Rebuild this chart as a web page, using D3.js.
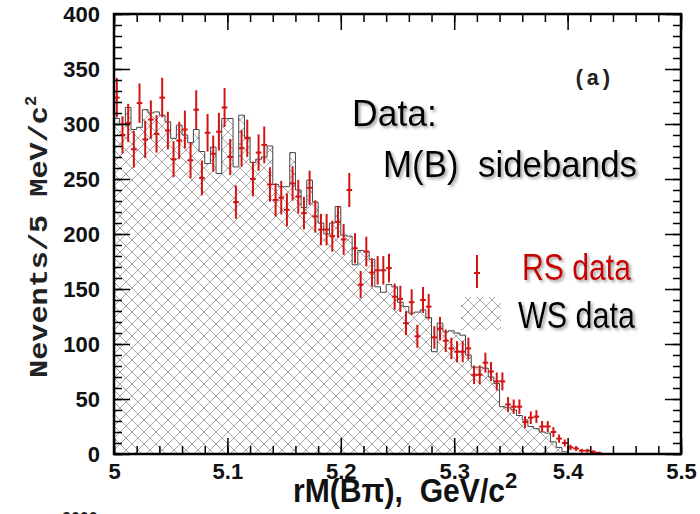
<!DOCTYPE html>
<html><head><meta charset="utf-8">
<script src="https://cdn.jsdelivr.net/npm/d3@7"></script>
<style>body{margin:0;background:#fff} text{white-space:pre}</style>
</head><body>
<svg id="c" width="700" height="514"></svg>
<script>
// 5 MeV/c^2 bins from 5.000 to 5.500 GeV/c^2
const binStart = 5.0;
const binWidth = 0.005;

// right-sign candidates (points with sqrt(N) errors)
const rsCounts = [
  324, 290, 301, 277, 319, 286, 304, 291, 324, 294,
  268, 285, 295, 267, 313, 251, 292, 273, 293, 315,
  270, 229, 278, 287, 250, 274, 281, 245, 231, 233,
  222, 246, 234, 219, 242, 216, 204, 204, 198, 211,
  195, 240, 187, 154, 184, 165, 167, 167, 169, 143,
  141, 119, 138, 107, 140, 134, 106, 114, 103, 96,
  93, 93, 96, 72, 72, 83, 75, 66, 66, 45,
  43, 43, 29, 33, 34, 25, 25, 20, 14, 10,
  6, 5, 3, 3, 2, 1, 0, 0, 0, 0,
  0, 0, 0, 0, 0, 0, 0, 0, 0, 0
];

// wrong-sign candidates (hatched histogram)
const wsCounts = [
  305, 300, 315, 295, 297, 313, 310, 311, 308, 302,
  287, 299, 290, 283, 295, 275, 264, 279, 255, 305,
  305, 261, 308, 288, 265, 268, 270, 280, 245, 243,
  243, 274, 240, 224, 249, 229, 210, 200, 210, 225,
  199, 198, 172, 185, 184, 177, 152, 147, 154, 152,
  138, 134, 128, 129, 131, 124, 93, 119, 111, 112,
  110, 108, 90, 79, 79, 78, 70, 64, 43, 42,
  40, 35, 31, 25, 23, 20, 19, 11, 6, 2,
  0, 0, 0, 0, 0, 0, 0, 0, 0, 0,
  0, 0, 0, 0, 0, 0, 0, 0, 0, 0
];

const xMajorTicks = [5, 5.1, 5.2, 5.3, 5.4, 5.5];
const xTickLabels = ["5", "5.1", "5.2", "5.3", "5.4", "5.5"];
const yMajorTicks = [0, 50, 100, 150, 200, 250, 300, 350, 400];

const svg = d3.select("#c");
const x = d3.scaleLinear().domain([5.0, 5.5]).range([114, 681]);
const y = d3.scaleLinear().domain([0, 400]).range([454, 14]);

const defs = svg.append("defs");
const pat = defs.append("pattern")
  .attr("id", "xhatch").attr("patternUnits", "userSpaceOnUse")
  .attr("width", 12).attr("height", 12);
pat.append("path").attr("d", "M0,0L12,12M0,12L12,0M-1,1L1,-1M11,13L13,11M-1,11L1,13M11,-1L13,1")
  .attr("stroke", "#9c9c9c").attr("stroke-width", 0.9).attr("fill", "none");
const sh = defs.append("filter").attr("id", "shadow")
  .attr("x", "-10%").attr("y", "-20%").attr("width", "130%").attr("height", "150%");
sh.append("feDropShadow").attr("dx", 2).attr("dy", 2).attr("stdDeviation", 1.5)
  .attr("flood-color", "#777").attr("flood-opacity", 0.7);

// WS histogram as a step outline
const steps = [[binStart, 0]];
wsCounts.forEach((v, i) => {
  const lo = binStart + i * binWidth;
  steps.push([lo, v], [lo + binWidth, v]);
});
steps.push([binStart + wsCounts.length * binWidth, 0]);
const line = d3.line().x(d => x(d[0])).y(d => y(d[1]));
svg.append("path").attr("d", line(steps))
  .attr("fill", "url(#xhatch)").attr("stroke", "#444").attr("stroke-width", 1);

// RS data points
const red = "#d21414";
const pts = svg.append("g").attr("stroke", red).attr("stroke-width", 2);
rsCounts.forEach((v, i) => {
  const lo = binStart + i * binWidth;
  const c = lo + binWidth / 2;
  const e = Math.sqrt(v);
  pts.append("line").attr("x1", x(lo)).attr("x2", x(lo + binWidth))
    .attr("y1", y(v)).attr("y2", y(v))
    .attr("stroke", v === 0 ? "#8b1a1a" : red);
  if (v > 0) {
    pts.append("line").attr("x1", x(c)).attr("x2", x(c))
      .attr("y1", y(v - e)).attr("y2", y(v + e));
  }
});

// axes with inward ticks on all four sides
const xMinor = d3.range(0, 26).map(k => 5 + k * 0.02);
const yMinor = d3.range(0, 41).map(k => k * 10);
function styleAxis(g) {
  g.selectAll("line").attr("stroke", "#000").attr("stroke-width", 1.5);
  g.select(".domain").remove();
}
svg.append("g").attr("transform", "translate(0,454)")
  .call(d3.axisBottom(x).tickValues(xMinor).tickSize(-8).tickFormat("")).call(styleAxis);
const xb = svg.append("g").attr("transform", "translate(0,454)")
  .call(d3.axisBottom(x).tickValues(xMajorTicks).tickSize(-16).tickPadding(9)
    .tickFormat((d, i) => xTickLabels[i]));
styleAxis(xb);
xb.selectAll("text").attr("font-family", "Liberation Sans, Arial, sans-serif")
  .attr("font-weight", "bold").attr("font-size", 22).attr("fill", "#111");
svg.append("g").attr("transform", "translate(0,14)")
  .call(d3.axisTop(x).tickValues(xMinor).tickSize(-8).tickFormat("")).call(styleAxis);
svg.append("g").attr("transform", "translate(0,14)")
  .call(d3.axisTop(x).tickValues(xMajorTicks).tickSize(-16).tickFormat("")).call(styleAxis);

svg.append("g").attr("transform", "translate(114,0)")
  .call(d3.axisLeft(y).tickValues(yMinor).tickSize(-8).tickFormat("")).call(styleAxis);
const yl = svg.append("g").attr("transform", "translate(114,0)")
  .call(d3.axisLeft(y).tickValues(yMajorTicks).tickSize(-16).tickPadding(14));
styleAxis(yl);
yl.selectAll("text").attr("font-family", "Liberation Sans, Arial, sans-serif")
  .attr("font-weight", "bold").attr("font-size", 22).attr("fill", "#111");
svg.append("g").attr("transform", "translate(681,0)")
  .call(d3.axisRight(y).tickValues(yMinor).tickSize(-8).tickFormat("")).call(styleAxis);
svg.append("g").attr("transform", "translate(681,0)")
  .call(d3.axisRight(y).tickValues(yMajorTicks).tickSize(-16).tickFormat("")).call(styleAxis);

// frame
svg.append("rect").attr("x", 114).attr("y", 14).attr("width", 567).attr("height", 440)
  .attr("fill", "none").attr("stroke", "#000").attr("stroke-width", 2.5);

// axis titles
const yt = svg.append("text").attr("transform", "translate(47,378) rotate(-90)")
  .attr("font-family", "Liberation Mono, Courier New, monospace").attr("font-weight", "bold")
  .attr("font-size", 25).attr("fill", "#222");
yt.append("tspan").text("Nevents/5 MeV/c").attr("textLength", 272).attr("lengthAdjust", "spacingAndGlyphs");
yt.append("tspan").text("2").attr("dy", -11).attr("font-size", 17);

const xt = svg.append("text").attr("x", 293).attr("y", 502)
  .attr("font-family", "Liberation Sans Narrow, Liberation Sans, Arial, sans-serif")
  .attr("font-weight", "bold").attr("font-size", 34).attr("fill", "#111");
xt.append("tspan").text("rM(B\u03c0),\u00a0\u00a0GeV/c").attr("textLength", 212).attr("lengthAdjust", "spacingAndGlyphs");
xt.append("tspan").text("2").attr("dy", -14).attr("font-size", 22);

// annotations
svg.append("text").attr("x", 573).attr("y", 85).text("(a)")
  .attr("font-family", "Liberation Mono, Courier New, monospace").attr("font-weight", "bold")
  .attr("font-size", 22).attr("fill", "#222");
const ann = svg.append("g").attr("filter", "url(#shadow)")
  .attr("font-family", "Liberation Sans Narrow, Liberation Sans, Arial, sans-serif");
ann.append("text").attr("x", 352).attr("y", 126).text("Data:")
  .attr("font-size", 36).attr("fill", "#000")
  .attr("textLength", 85).attr("lengthAdjust", "spacingAndGlyphs");
ann.append("text").attr("x", 383).attr("y", 177).text("M(B)\u00a0\u00a0sidebands")
  .attr("font-size", 36).attr("fill", "#000")
  .attr("textLength", 254).attr("lengthAdjust", "spacingAndGlyphs");
ann.append("text").attr("x", 522).attr("y", 280).text("RS data")
  .attr("font-size", 36).attr("fill", "#c80000")
  .attr("textLength", 109).attr("lengthAdjust", "spacingAndGlyphs");
ann.append("text").attr("x", 518).attr("y", 328).text("WS data")
  .attr("font-size", 36).attr("fill", "#000")
  .attr("textLength", 117).attr("lengthAdjust", "spacingAndGlyphs");

// legend keys
const lg = svg.append("g");
lg.append("line").attr("x1", 477).attr("x2", 477).attr("y1", 255).attr("y2", 288)
  .attr("stroke", red).attr("stroke-width", 2);
lg.append("line").attr("x1", 474).attr("x2", 480).attr("y1", 273).attr("y2", 273)
  .attr("stroke", red).attr("stroke-width", 2);
lg.append("rect").attr("x", 461).attr("y", 297).attr("width", 40).attr("height", 33)
  .attr("fill", "url(#xhatch)");

// partially visible footer
svg.append("text").attr("x", 62).attr("y", 524).text("2000")
  .attr("font-family", "Liberation Sans, Arial, sans-serif").attr("font-weight", "bold")
  .attr("font-size", 16).attr("fill", "#222");
</script>
</body></html>
